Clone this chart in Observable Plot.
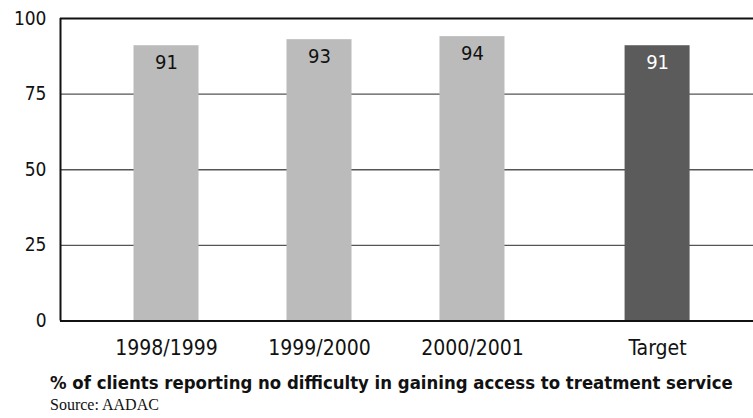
<!DOCTYPE html>
<html>
<head>
<meta charset="utf-8">
<script src="https://cdn.jsdelivr.net/npm/d3@7"></script>
<script src="https://cdn.jsdelivr.net/npm/@observablehq/plot@0.6"></script>
<style>
  body { margin: 0; background: #fff; }
  #chart { width: 753px; }
  .cap { margin-left: 50px; color: #111; line-height: 1; white-space: nowrap; }
  .cap-title { font-family: "DejaVu Sans Condensed", "DejaVu Sans", sans-serif; font-stretch: condensed; font-weight: bold; font-size: 18.4px; margin-top: 12px; }
  .cap-source { font-family: "Liberation Serif", serif; font-size: 16px; margin-top: 5px; }
</style>
</head>
<body>
<div id="chart"></div>
<script>
// Client access survey results, by fiscal year, with the target shown apart
const categories = ["1998/1999", "1999/2000", "2000/2001", "Target"];
const values = [91, 93, 94, 91];
const isTarget = [false, false, false, true];
const yTicks = [0, 25, 50, 75, 100];

// The target bar sits a little further right than the yearly bars
const targetGap = 0.21;
const halfWidth = 0.2125;

const rows = categories.map((c, i) => ({
  label: c,
  value: values[i],
  target: isTarget[i],
  pos: i + (isTarget[i] ? targetGap : 0)
}));
const labelAt = new Map(rows.map(d => [d.pos, d.label]));

const font = "'DejaVu Sans Condensed', 'DejaVu Sans', sans-serif";
const xMin = -0.693, xMax = 3.837;

const chart = Plot.plot({
  width: 753,
  height: 362,
  marginTop: 18,
  marginBottom: 41.5,
  marginLeft: 60,
  marginRight: 0,
  style: { fontFamily: font, fontStretch: "condensed", color: "#111", background: "#fff" },
  x: { type: "linear", domain: [xMin, xMax], axis: null },
  y: { domain: [0, 100], axis: null },
  marks: [
    Plot.ruleY([25, 50, 75], { stroke: "#555", strokeWidth: 1.3 }),
    Plot.rectY(rows, {
      x1: d => d.pos - halfWidth,
      x2: d => d.pos + halfWidth,
      y1: 0,
      y2: "value",
      fill: d => d.target ? "#5b5b5b" : "#bbbbbb"
    }),
    Plot.ruleY([100], { stroke: "#111", strokeWidth: 2 }),
    Plot.ruleY([0], { stroke: "#111", strokeWidth: 2 }),
    Plot.ruleX([xMin], { y1: 0, y2: 100, stroke: "#111", strokeWidth: 2 }),
    Plot.text(rows, {
      x: "pos",
      y: "value",
      text: d => String(d.value),
      lineAnchor: "top",
      dy: 9,
      fontSize: 20,
      fill: d => d.target ? "#fff" : "#111"
    }),
    Plot.axisY(yTicks, {
      label: null,
      tickSize: 0,
      tickPadding: 14,
      fontSize: 19,
      tickFormat: d => String(d)
    }),
    Plot.axisX(rows.map(d => d.pos), {
      label: null,
      tickSize: 0,
      tickPadding: 19,
      fontSize: 21,
      tickFormat: d => labelAt.get(d)
    })
  ]
});

const host = document.getElementById("chart");
host.append(chart);

const title = document.createElement("div");
title.className = "cap cap-title";
title.textContent = "% of clients reporting no difficulty in gaining access to treatment service";
host.append(title);

const source = document.createElement("div");
source.className = "cap cap-source";
source.textContent = "Source: AADAC";
host.append(source);
</script>
</body>
</html>
